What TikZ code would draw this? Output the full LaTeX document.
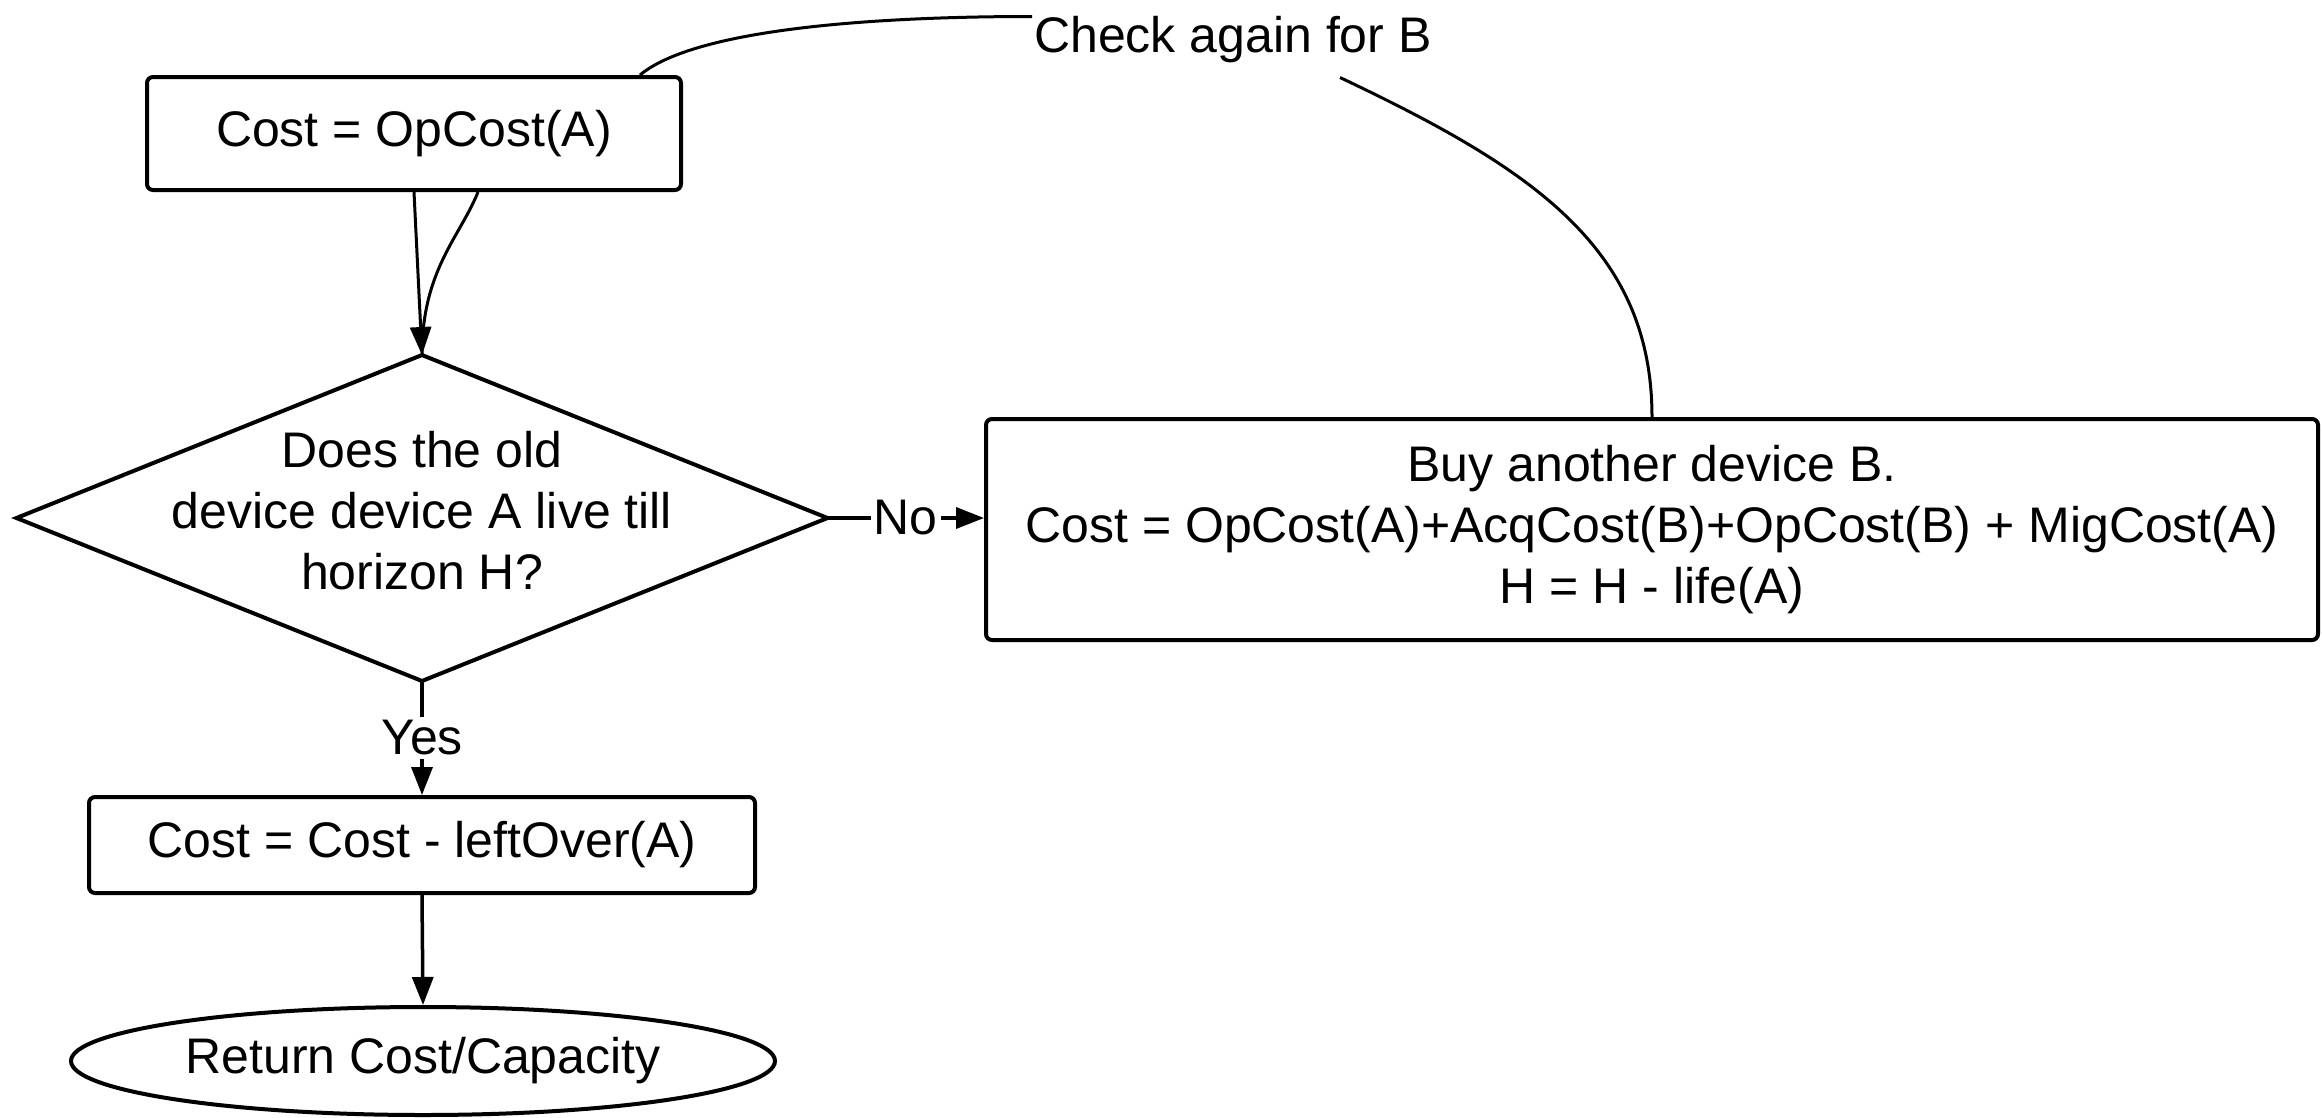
\documentclass[tikz,border=0pt]{standalone}
\usepackage{fontspec}
\setmainfont{Liberation Sans}
\usetikzlibrary{shapes.geometric,arrows.meta}
\begin{document}
\begin{tikzpicture}[x=1pt,y=-1pt,
  txt/.style={font=\fontsize{50}{61}\selectfont, align=center},
  box/.style={txt, draw, line width=4pt, rounded corners=6pt, inner sep=0pt},
  lbl/.style={txt, inner sep=0pt},
  conn/.style={line width=3pt},
  tip/.style={-{Triangle[length=28pt,width=21pt]}},
  arr/.style={line width=3.5pt, tip}]
\useasboundingbox[fill=white] (0,0) rectangle (2322,1117);
\node[box, minimum width=534pt, minimum height=113pt] (init) at (414,133.5) {Cost = OpCost(A)};
\node[draw, line width=4pt, diamond, minimum width=811pt, minimum height=326pt, inner sep=0pt, outer sep=0pt] (dec) at (422,518) {};
\node[lbl] (dectext) at (422,511) {Does the old\\device device A live till\\horizon H?};
\node[box, minimum width=1332pt, minimum height=221pt] (buy) at (1652,529.5) {Buy another device B.\\Cost = OpCost(A)+AcqCost(B)+OpCost(B) + MigCost(A)\\H = H - life(A)};
\node[box, minimum width=666pt, minimum height=96pt] (upd) at (422,845) {Cost = Cost - leftOver(A)};
\node[txt, draw, line width=4pt, ellipse, minimum width=704pt, minimum height=108pt, inner sep=0pt] (ret) at (423,1061) {Return Cost/Capacity};
\node[lbl] (chk) at (1233,40) {Check again for B};

\draw[conn, tip] (init.south) -- (dec.north);
\draw[conn] ([xshift=64pt]init.south) .. controls +(-18,45) and +(0,-85) .. (dec.north);
\draw[arr] (dec.east) -- node[lbl, fill=white, inner xsep=3pt] {No} (dec.east -| buy.west);
\draw[arr] (dec.south) -- node[lbl, fill=white, inner ysep=4pt] {Yes} (upd.north);
\draw[arr] (upd.south) -- (ret.north);
\draw[conn] ([xshift=226pt]init.north) .. controls +(60,-50) and +(-130,0) .. ([xshift=-2pt]chk.north west);
\draw[conn] ([xshift=107pt,yshift=-14pt]chk.south) .. controls +(190,90) and +(0,-170) .. (buy.north);
\end{tikzpicture}
\end{document}
